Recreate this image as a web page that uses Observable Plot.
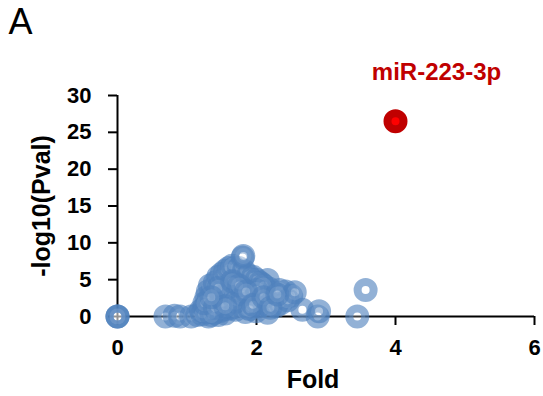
<!DOCTYPE html>
<html><head><meta charset="utf-8">
<script src="https://cdn.jsdelivr.net/npm/d3@7"></script>
<script src="https://cdn.jsdelivr.net/npm/@observablehq/plot@0.6"></script>
<style>body{margin:0;background:#fff;}#chart{position:relative;width:543px;height:396px;}</style>
</head><body><div id="chart"></div>
<script>
const foldValues = [0, 0, 0, 0.69, 0.82, 0.9, 1.06, 1.15, 1.31, 1.45, 1.55, 1.2, 1.25, 1.3, 1.35, 1.38, 1.42, 1.45, 1.48, 1.5, 1.52, 1.55, 1.58, 1.6, 1.62, 1.63, 1.65, 1.67, 1.7, 1.72, 1.74, 1.76, 1.78, 1.8, 1.83, 1.85, 1.88, 1.9, 1.92, 1.95, 1.99, 2.02, 2.05, 2.1, 2.16, 2.16, 2.2, 2.25, 2.3, 2.37, 2.42, 2.5, 2.66, 2.88, 2.9, 3.45, 3.57,
  1.28, 1.33, 1.36, 1.4, 1.43, 1.46, 1.49, 1.51, 1.53, 1.56, 1.58, 1.6, 1.61, 1.63, 1.64, 1.66, 1.68, 1.69, 1.71, 1.73, 1.75, 1.77, 1.79, 1.82, 1.84, 1.86, 1.87, 1.89, 1.91, 1.93, 1.96, 1.98, 2.0, 2.03, 2.06, 2.08, 2.12, 2.14, 2.18, 2.22, 2.28, 2.33, 2.35, 2.45, 2.55, 1.39, 1.47, 1.57, 1.7, 1.84, 1.22, 1.35,
  1.3, 1.28, 1.25, 1.33, 1.4, 1.45, 1.5, 1.55, 1.6, 1.65, 1.75, 1.82, 1.88, 1.95, 2.0, 2.05, 2.1,
  1.4, 1.5, 1.6, 1.7, 1.8, 1.9, 2.0, 1.45, 1.55, 1.65, 1.75, 1.85, 1.95, 2.1, 2.2, 2.3, 1.35,
  1.8, 1.81];
const pvalValues = [0, 0, 0, 0, 0.1, 0, 0, 0.2, 0, 0.2, 0.4, 0.8, 1.2, 2.0, 3.0, 3.8, 2.5, 1.5, 4.2, 3.2, 5.0, 2.2, 5.5, 4.0, 6.0, 3.0, 1.2, 5.2, 6.2, 4.5, 2.4, 3.6, 5.8, 1.5, 4.2, 2.8, 3.4, 4.6, 1.8, 2.6, 0.7, 3.2, 3.8, 2.2, 4.95, 0.5, 2.5, 3.2, 2.6, 2.5, 3.4, 2.8, 0.9, 0, 0.7, 0, 3.6,
  0.6, 1.0, 1.6, 2.2, 3.3, 2.8, 1.9, 0.9, 3.6, 4.6, 2.9, 1.7, 5.1, 4.4, 3.6, 2.6, 6.6, 4.0, 3.1, 5.4, 1.9, 4.9, 2.6, 3.8, 5.2, 1.2, 4.0, 2.2, 3.6, 5.0, 3.0, 4.2, 2.0, 1.4, 2.9, 4.4, 3.4, 1.6, 3.8, 2.0, 1.4, 3.6, 1.8, 2.2, 3.3, 0.5, 0.7, 1.0, 0.9, 0.6, 0.3, 0.2,
  3.4, 2.6, 1.8, 4.2, 4.6, 5.4, 5.8, 6.2, 6.6, 6.9, 6.6, 6.2, 5.6, 5.4, 5.0, 4.6, 4.2,
  1.2, 2.4, 3.2, 2.0, 3.0, 1.0, 3.6, 3.9, 1.4, 4.8, 4.2, 3.4, 1.6, 2.6, 1.2, 3.0, 2.6,
  8.0, 8.2];
const hitName = ["miR-223-3p"];
const hitFold = [4.0];
const hitPval = [26.5];
const xTicks = [0, 2, 4, 6];
const yTicks = [0, 5, 10, 15, 20, 25, 30];
const panelLabel = "A";
const xTitle = "Fold";
const yTitle = "-log10(Pval)";

const points = foldValues.map((f, i) => ({fold: f, pval: pvalValues[i]}));
const hits = hitName.map((n, i) => ({name: n, fold: hitFold[i], pval: hitPval[i]}));
const font = "'Liberation Sans', Arial, sans-serif";

const chart = Plot.plot({
  width: 543, height: 396,
  marginLeft: 117, marginRight: 9, marginTop: 95, marginBottom: 80,
  style: {fontFamily: font, background: "white", overflow: "visible"},
  x: {domain: [0, 6], axis: null},
  y: {domain: [0, 30], axis: null},
  marks: [
    Plot.ruleY([0], {stroke: "black", strokeWidth: 2}),
    Plot.ruleX([0], {stroke: "black", strokeWidth: 2}),
    Plot.axisX({ticks: xTicks, tickFormat: d3.format("d"), tickSize: 9, tickPadding: 14, fontSize: 22, fontWeight: "bold", fill: "black", label: null, strokeWidth: 2}),
    Plot.axisY({ticks: yTicks, tickFormat: d3.format("d"), tickSize: 9, tickPadding: 17, fontSize: 22, fontWeight: "bold", fill: "black", label: null, strokeWidth: 2}),
    Plot.dot(points, {x: "fold", y: "pval", r: 8, stroke: "#4f81bd", strokeOpacity: 0.62, strokeWidth: 8, fill: "white", fillOpacity: 0.25}),
    Plot.dot(hits, {x: "fold", y: "pval", r: 8, stroke: "#c00000", strokeWidth: 8, fill: "#ff0000"}),
    Plot.text(hits, {x: "fold", y: "pval", text: "name", dx: 41, dy: -49, fill: "#c00000", fontSize: 24, fontWeight: "bold"}),
    Plot.text([xTitle], {frameAnchor: "bottom", text: d => d, dx: -13, dy: 71, fontSize: 25, fontWeight: "bold", fill: "black"}),
    Plot.text([yTitle], {frameAnchor: "left", text: d => d, rotate: -90, textAnchor: "middle", dx: -76, fontSize: 25, fontWeight: "bold", fill: "black"}),
    Plot.text([panelLabel], {frameAnchor: "top-left", text: d => d, lineAnchor: "top", dx: -109, dy: -87, fontSize: 36, fill: "black", textAnchor: "start"})
  ]
});
document.getElementById("chart").appendChild(chart);
</script>
</body></html>
